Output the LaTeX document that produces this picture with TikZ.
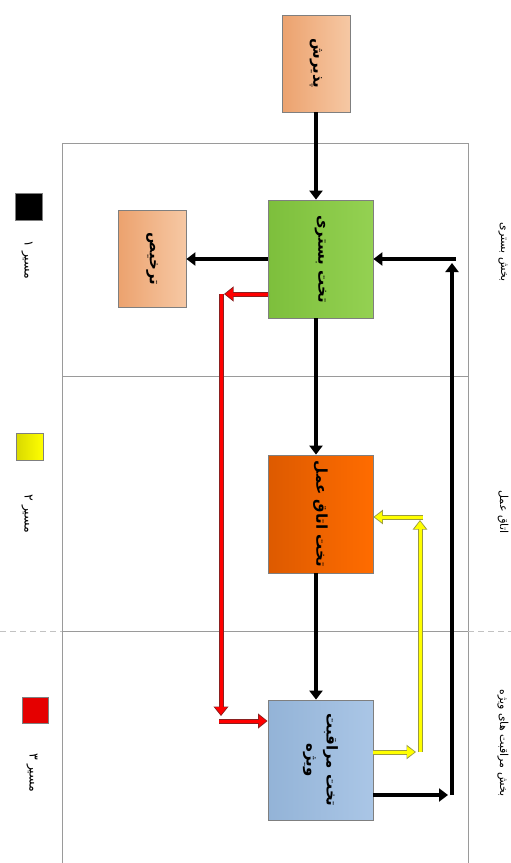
\documentclass[tikz,border=0pt]{standalone}
\usepackage{fontspec}
\newfontfamily\fa[Script=Arabic]{DejaVu Sans}
\TeXXeTstate=1
\usetikzlibrary{arrows.meta}

\definecolor{framegray}{HTML}{9A9A9A}
\definecolor{boxedge}{HTML}{7F7F7F}
\definecolor{peachL}{HTML}{ECA26E}
\definecolor{peachR}{HTML}{F6C8A4}
\definecolor{greenL}{HTML}{7DBF3C}
\definecolor{greenR}{HTML}{94D152}
\definecolor{orangeL}{HTML}{DD5A00}
\definecolor{orangeR}{HTML}{FF6C00}
\definecolor{blueL}{HTML}{93B3D7}
\definecolor{blueR}{HTML}{AAC6E6}
\definecolor{redfill}{HTML}{FF0000}
\definecolor{rededge}{HTML}{8A2020}
\definecolor{yelfill}{HTML}{FFFF00}
\definecolor{yeledge}{HTML}{9A9A40}

\tikzset{
  unitbox/.style={draw=boxedge, line width=0.8pt, inner sep=0pt},
  smallbox/.style={unitbox, minimum width=68pt, minimum height=97pt, left color=peachL, right color=peachR},
  bigbox/.style={unitbox, minimum width=105pt, minimum height=118pt},
  boxtext/.style={rotate=-90, font=\fa\bfseries\fontsize{15}{20}\selectfont, align=center, inner sep=0pt},
  sidetext/.style={rotate=-90, font=\fa\fontsize{11}{13}\selectfont, inner sep=0pt},
  keytext/.style={rotate=-90, font=\fa\fontsize{12.5}{14}\selectfont, inner sep=0pt},
  legendbox/.style={draw=boxedge, line width=0.8pt, minimum size=27pt, inner sep=0pt},
  flow/.style={line width=4.5pt, -{Triangle[length=9pt,width=13pt]}},
  redpath/.style={line width=3pt, redfill, -{Triangle[length=7.5pt,width=11pt]}, shorten >=1.3pt,
    preaction={draw=rededge, line width=5pt, shorten >=0pt, -{Triangle[length=9.5pt,width=14.5pt]}}},
  yelpath/.style={line width=3pt, yelfill, -{Triangle[length=7.5pt,width=10.5pt]}, shorten >=1.3pt,
    preaction={draw=yeledge, line width=5pt, shorten >=0pt, -{Triangle[length=9.5pt,width=14pt]}}}
}

\begin{document}
\begin{tikzpicture}[x=1pt,y=-1pt]
\useasboundingbox (0,0) rectangle (511,863);

% swimlane frame
\draw[framegray, line width=0.8pt] (62,863) -- (62,143) -- (468,143) -- (468,863);
\draw[framegray, line width=0.8pt] (62,376) -- (468,376);
\draw[framegray, line width=0.8pt] (62,631) -- (468,631);
\draw[framegray!60, line width=0.8pt, dash pattern=on 6pt off 4pt] (0,631) -- (62,631);
\draw[framegray!60, line width=0.8pt, dash pattern=on 6pt off 4pt] (468,631) -- (511,631);

% lane titles
\node[sidetext] (lane1) at (503,252) {\beginR بخش بستری\endR};
\node[sidetext] (lane2) at (503,512) {\beginR اتاق عمل\endR};
\node[sidetext] (lane3) at (503,743) {\beginR بخش مراقبت های ویژه\endR};

% process boxes
\node[smallbox] (admit) at (316,63.5) {};
\node[smallbox] (discharge) at (152,259) {};
\node[bigbox, left color=greenL, right color=greenR] (ward) at (320.5,259) {};
\node[bigbox, left color=orangeL, right color=orangeR] (surgery) at (320.5,514) {};
\node[bigbox, minimum height=120pt, left color=blueL, right color=blueR] (icu) at (320.5,760) {};

\node[boxtext] (admit-t) at (admit.center) {\beginR پذیرش\endR};
\node[boxtext] (discharge-t) at (discharge.center) {\beginR ترخیص\endR};
\node[boxtext] (ward-t) at (ward.center) {\beginR تخت بستری\endR};
\node[boxtext] (surgery-t) at (surgery.center) {\beginR تخت اتاق عمل\endR};
\node[boxtext] (icu-t) at (icu.center) {\beginR تخت مراقبت\endR\\\beginR ویژه\endR};

% legend
\node[legendbox, fill=black] (key1) at (28.5,206.5) {};
\node[legendbox, left color=yellow!85!black, right color=yellow] (key2) at (29.5,447) {};
\node[legendbox, minimum size=26pt, fill=red!90!black] (key3) at (35,710) {};
\node[keytext] (key1-t) at (27,260) {\beginR مسیر ۱\endR};
\node[keytext] (key2-t) at (27,514) {\beginR مسیر ۲\endR};
\node[keytext] (key3-t) at (32,773) {\beginR مسیر ۳\endR};

% main flow
\draw[flow] (admit.south) -- (admit.south |- ward.north);
\draw[flow] ([xshift=-4.5pt]ward.south) -- ([xshift=-4.5pt]surgery.north);
\draw[flow] ([xshift=-4.5pt]surgery.south) -- ([xshift=-4.5pt]icu.north);
\draw[flow] (ward.west) -- (discharge.east);

% route 1: icu back to ward
\coordinate (b1) at (448,795);
\coordinate (b2) at (452,795);
\coordinate (b3) at (452,263);
\coordinate (b4) at (456,259);
\draw[flow] (icu.east |- b1) -- (b1);
\draw[flow] (b2) -- (b3);
\draw[flow] (b4) -- (ward.east);

% route 2: icu back to surgery
\coordinate (y1) at (416,752);
\coordinate (y2) at (420,752);
\coordinate (y3) at (420,520);
\coordinate (y4) at (423,517);
\draw[yelpath] (icu.east |- y1) -- (y1);
\draw[yelpath] (y2) -- (y3);
\draw[yelpath] (y4) -- (surgery.east |- y4);

% route 3: ward straight to icu
\coordinate (r1) at (224,294);
\coordinate (r2) at (221,294);
\coordinate (r3) at (221,716);
\coordinate (r4) at (219,721);
\draw[redpath] (ward.west |- r1) -- (r1);
\draw[redpath] (r2) -- (r3);
\draw[redpath] (r4) -- (icu.west |- r4);
\end{tikzpicture}
\end{document}
